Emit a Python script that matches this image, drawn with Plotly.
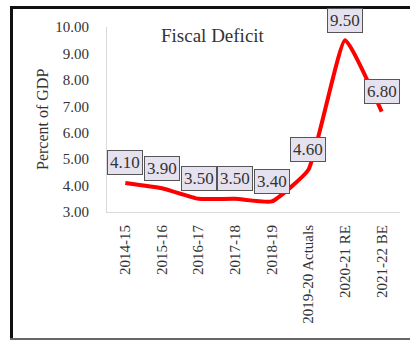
import plotly.graph_objects as go

years = ["2014-15", "2015-16", "2016-17", "2017-18", "2018-19",
         "2019-20 Actuals", "2020-21 RE", "2021-22 BE"]
deficit = [4.10, 3.90, 3.50, 3.50, 3.40, 4.60, 9.50, 6.80]
y_ticks = [3, 4, 5, 6, 7, 8, 9, 10]

SERIF = "Liberation Serif, Times New Roman, serif"
TXT = "#333333"

fig = go.Figure()
fig.add_trace(go.Scatter(
    x=years, y=deficit, mode="lines",
    line=dict(color="#ff0000", width=4, shape="spline", smoothing=0.4),
    hoverinfo="skip", showlegend=False,
))

# boxed value labels above each point
for yr, v in zip(years, deficit):
    fig.add_annotation(
        x=yr, y=v, text=f"{v:.2f}", showarrow=False, yshift=20,
        font=dict(family=SERIF, size=17, color=TXT),
        bgcolor="#e6e1ee", bordercolor="#555555", borderwidth=1, borderpad=2,
    )

# plot-area pixel helpers for paper coordinates
L, R, T, B = 107, 400, 27, 212
def px(x):
    return (x - L) / (R - L)
def py(y):
    return (B - y) / (B - T)

fig.add_annotation(
    x=px(213), y=py(36), xref="paper", yref="paper", showarrow=False,
    xanchor="center", yanchor="middle",
    text="Fiscal Deficit", font=dict(family=SERIF, size=19, color=TXT),
)
fig.add_annotation(
    x=px(42), y=py(120), xref="paper", yref="paper", showarrow=False,
    xanchor="center", yanchor="middle",
    text="Percent of GDP", textangle=-90,
    font=dict(family=SERIF, size=16, color=TXT),
)

# outer frame
frame = [
    dict(x0=px(11.5), x1=px(11.5), y0=py(6), y1=py(340), color="#111111", w=3),
    dict(x0=px(10), x1=px(412), y0=py(7.5), y1=py(7.5), color="#111111", w=3),
    dict(x0=px(10), x1=px(412), y0=py(339), y1=py(339), color="#666666", w=2),
]
for f in frame:
    fig.add_shape(type="line", xref="paper", yref="paper",
                  x0=f["x0"], x1=f["x1"], y0=f["y0"], y1=f["y1"],
                  line=dict(color=f["color"], width=f["w"]))

fig.update_layout(
    width=410, height=343,
    margin=dict(l=L, r=410 - R, t=T, b=343 - B),
    paper_bgcolor="white", plot_bgcolor="white",
    xaxis=dict(
        type="category", range=[-0.5, 7.5], tickangle=-90,
        showgrid=False, zeroline=False,
        showline=True, linecolor="#d9d9d9", linewidth=1,
        ticks="", ticklabelstandoff=6,
        tickfont=dict(family=SERIF, size=15, color=TXT),
    ),
    yaxis=dict(
        range=[3, 10], tickvals=y_ticks, tickformat=".2f",
        showgrid=False, zeroline=False,
        showline=True, linecolor="#d9d9d9", linewidth=1,
        ticks="", ticklabelstandoff=14,
        tickfont=dict(family=SERIF, size=15, color=TXT),
    ),
)

fig.write_html("out.html")
